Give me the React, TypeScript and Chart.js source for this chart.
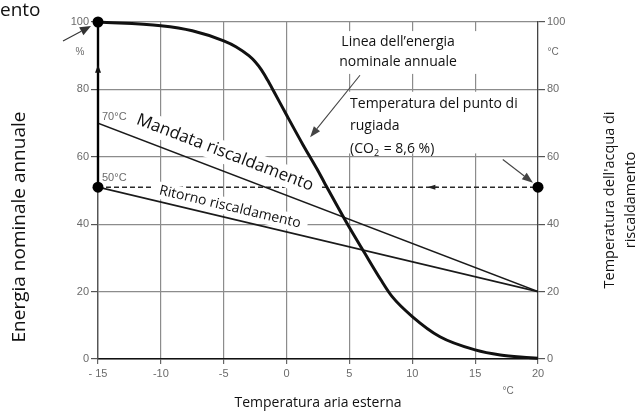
import React, { useEffect, useRef } from "react";
import { Chart, registerables } from "chart.js";

Chart.register(...registerables);

// ---- data ----
const xTickValues = [-15, -10, -5, 0, 5, 10, 15, 20];
const xTickLabels = ["- 15", "-10", "-5", "0", "5", "10", "15", "20"];
const yTickValues = [0, 20, 40, 60, 80, 100];

// annual nominal energy line (%), vs outdoor air temperature (°C)
const energyTemp = [-15, -10, -7.5, -5, -4, -3, -2.5, -2, -1.5, -1, 0, 1.3, 2.4, 3, 5, 6.2, 7.5, 8.4, 10, 12.2, 15, 17, 19.4, 20];
const energyPct = [100, 98.9, 97.4, 94.4, 92.6, 90.0, 88.2, 85.8, 82.7, 79.3, 72.4, 63.6, 56.5, 52.4, 39, 31.5, 23.5, 18.5, 12.6, 6.6, 2.7, 1.2, 0.4, 0.2];

// heating water temperatures (°C)
const flowTemp = [-15, 20];
const flowWater = [70, 20];
const returnTemp = [-15, 20];
const returnWater = [51, 20];
const dewTemp = [-15, 20];
const dewWater = [51, 51];
const axisArrowTemp = [-15, -15];
const axisArrowValue = [51, 100];
const dotTemp = [-15, -15, 20];
const dotValue = [100, 51, 51];

const FONT = "'Open Sans', 'Noto Sans', sans-serif";
const TICKFONT = "'Liberation Sans', Arial, sans-serif";

const pts = (xs: number[], ys: number[]) => xs.map((v, i) => ({ x: v, y: ys[i] }));

function arrow(ctx: CanvasRenderingContext2D, x1: number, y1: number, x2: number, y2: number, len: number, w: number, lw: number, color: string) {
  const a = Math.atan2(y2 - y1, x2 - x1);
  const bx = x2 - Math.cos(a) * len;
  const by = y2 - Math.sin(a) * len;
  ctx.save();
  ctx.strokeStyle = color;
  ctx.fillStyle = color;
  ctx.lineWidth = lw;
  ctx.beginPath();
  ctx.moveTo(x1, y1);
  ctx.lineTo(bx, by);
  ctx.stroke();
  ctx.beginPath();
  ctx.moveTo(x2, y2);
  ctx.lineTo(bx + Math.sin(a) * w / 2, by - Math.cos(a) * w / 2);
  ctx.lineTo(bx - Math.sin(a) * w / 2, by + Math.cos(a) * w / 2);
  ctx.closePath();
  ctx.fill();
  ctx.restore();
}

const MANDATA = "Mandata riscaldamento";
const RITORNO = "Ritorno riscaldamento";

function rotatedInfo(chart: any) {
  const x = chart.scales.x;
  const y = chart.scales.y2;
  const aF = Math.atan2(y.getPixelForValue(flowWater[1]) - y.getPixelForValue(flowWater[0]), x.getPixelForValue(flowTemp[1]) - x.getPixelForValue(flowTemp[0]));
  const aR = Math.atan2(y.getPixelForValue(returnWater[1]) - y.getPixelForValue(returnWater[0]), x.getPixelForValue(returnTemp[1]) - x.getPixelForValue(returnTemp[0]));
  return [
    { text: MANDATA, cx: x.getPixelForValue(-4.9), cy: y.getPixelForValue(61.2), a: aF, size: 17, h: 22 },
    { text: RITORNO, cx: x.getPixelForValue(-4.5), cy: y.getPixelForValue(45.1), a: aR, size: 14, h: 17 },
  ];
}

const annotationPlugin = {
  id: "annotations",
  afterDatasetDraw(chart: any, args: any) {
    if (args.index !== 0) return;
    const { ctx } = chart;
    const x = chart.scales.x;
    const y = chart.scales.y2;
    const X = (v: number) => x.getPixelForValue(v);
    const Y = (v: number) => y.getPixelForValue(v);
    ctx.save();
    ctx.fillStyle = "#ffffff";
    // label boxes
    ctx.fillRect(X(2.45), Y(97.3), X(15.5) - X(2.45), Y(84.6) - Y(97.3));
    ctx.fillRect(X(4.9), Y(79.3), X(19.3) - X(4.9), Y(61) - Y(79.3));
    for (const r of rotatedInfo(chart)) {
      ctx.font = `${r.size}px ${FONT}`;
      const w = ctx.measureText(r.text).width + 14;
      ctx.save();
      ctx.translate(r.cx, r.cy);
      ctx.rotate(r.a);
      ctx.fillRect(-w / 2, -r.h / 2, w, r.h);
      ctx.restore();
    }
    ctx.restore();
  },
  afterDatasetsDraw(chart: any) {
    const { ctx } = chart;
    const x = chart.scales.x;
    const y = chart.scales.y2;
    const X = (v: number) => x.getPixelForValue(v);
    const Y = (v: number) => y.getPixelForValue(v);
    ctx.save();

    // rotated series labels
    ctx.fillStyle = "#111";
    ctx.textAlign = "center";
    ctx.textBaseline = "middle";
    for (const r of rotatedInfo(chart)) {
      ctx.font = `${r.size}px ${FONT}`;
      ctx.save();
      ctx.translate(r.cx, r.cy);
      ctx.rotate(r.a);
      ctx.fillText(r.text, 0, 0);
      ctx.restore();
    }

    // callout texts
    ctx.font = `14px ${FONT}`;
    ctx.textAlign = "center";
    ctx.fillText("Linea dell\u2019energia", X(8.87), Y(94.2));
    ctx.fillText("nominale annuale", X(8.87), Y(88));
    ctx.textAlign = "left";
    const tx = X(5.05);
    ctx.fillText("Temperatura del punto di", tx, Y(75.6));
    ctx.fillText("rugiada", tx, Y(69.0));
    let cx = tx;
    ctx.fillText("(CO", cx, Y(62.3));
    cx += ctx.measureText("(CO").width;
    ctx.font = `9px ${FONT}`;
    ctx.fillText("2", cx, Y(62.3) + 4);
    cx += ctx.measureText("2").width + 1;
    ctx.font = `14px ${FONT}`;
    ctx.fillText(" = 8,6 %)", cx, Y(62.3));

    // callout arrows
    arrow(ctx, X(5.84), Y(84.2), X(1.87), Y(65.8), 11, 8, 1.1, "#444");
    arrow(ctx, X(17.2), Y(59.2), X(19.6), Y(52.3), 11, 8, 1.1, "#444");
    arrow(ctx, X(-15) - 35, Y(100) + 19, X(-15) - 7, Y(100) + 4, 11, 9, 1.1, "#333");
    // arrowhead on the left vertical axis (up)
    arrow(ctx, X(-15), Y(85), X(-15), Y(87.3), 8, 6, 1, "#111");
    // arrowhead on the dew point dashed line (left)
    arrow(ctx, X(12), Y(51), X(11.2), Y(51), 8, 5, 1, "#222");

    // small value labels
    ctx.fillStyle = "#6b6b6b";
    ctx.font = `11px ${TICKFONT}`;
    ctx.textAlign = "left";
    ctx.textBaseline = "alphabetic";
    ctx.fillText("70\u00b0C", X(-15) + 4, Y(70) - 3);
    ctx.fillText("50\u00b0C", X(-15) + 4, Y(51) - 6);

    // unit labels
    ctx.font = `10px ${TICKFONT}`;
    ctx.textAlign = "center";
    ctx.textBaseline = "middle";
    ctx.fillText("%", X(-15) - 18, Y(91));
    ctx.fillText("\u00b0C", X(20) + 15, Y(91));
    ctx.fillText("\u00b0C", X(20) - 30, Y(0) + 32);

    // axis titles
    ctx.fillStyle = "#111";
    ctx.font = `14px ${FONT}`;
    ctx.textAlign = "center";
    ctx.textBaseline = "middle";
    ctx.fillText("Temperatura aria esterna", (chart.chartArea.left + chart.chartArea.right) / 2, 403);

    ctx.save();
    ctx.font = `19px ${FONT}`;
    ctx.translate(20, 227);
    ctx.rotate(-Math.PI / 2);
    ctx.fillText("Energia nominale annuale", 0, 0);
    ctx.restore();

    ctx.save();
    ctx.font = `14.5px ${FONT}`;
    ctx.translate(610, 200);
    ctx.rotate(-Math.PI / 2);
    ctx.fillText("Temperatura dell'acqua di", 0, 0);
    ctx.fillText("riscaldamento", 0, 21);
    ctx.restore();

    // clipped heading fragment at top-left
    ctx.font = `19px ${FONT}`;
    ctx.textAlign = "left";
    ctx.textBaseline = "alphabetic";
    ctx.fillText("ento", 0, 16);

    ctx.restore();
  },
};

export default function App() {
  const ref = useRef<HTMLCanvasElement>(null);
  useEffect(() => {
    document.body.style.margin = "0";
    const canvas = ref.current;
    if (!canvas) return;
    const tickFont = { family: TICKFONT, size: 11 };
    const chart = new Chart(canvas, {
      type: "line",
      data: {
        datasets: [
          {
            label: "Temperatura del punto di rugiada",
            data: pts(dewTemp, dewWater),
            yAxisID: "y2",
            borderColor: "#2a2a2a",
            borderWidth: 1.5,
            borderDash: [5, 3],
            pointRadius: 0,
            order: 10,
          },
          {
            label: "Mandata riscaldamento",
            data: pts(flowTemp, flowWater),
            yAxisID: "y2",
            borderColor: "#1a1a1a",
            borderWidth: 1.5,
            pointRadius: 0,
            order: 5,
          },
          {
            label: "Ritorno riscaldamento",
            data: pts(returnTemp, returnWater),
            yAxisID: "y2",
            borderColor: "#1a1a1a",
            borderWidth: 1.6,
            pointRadius: 0,
            order: 5,
          },
          {
            label: "axis arrow",
            data: pts(axisArrowTemp, axisArrowValue),
            yAxisID: "y",
            borderColor: "#000",
            borderWidth: 2.4,
            pointRadius: 0,
            clip: false as any,
            order: 4,
          },
          {
            label: "Linea dell'energia nominale annuale",
            data: pts(energyTemp, energyPct),
            yAxisID: "y",
            borderColor: "#111",
            borderWidth: 3,
            cubicInterpolationMode: "monotone",
            pointRadius: 0,
            clip: false as any,
            order: 2,
          },
          {
            label: "points",
            data: pts(dotTemp, dotValue),
            yAxisID: "y",
            showLine: false,
            pointRadius: 5.5,
            pointBackgroundColor: "#000",
            pointBorderWidth: 0,
            clip: false as any,
            order: 1,
          },
        ],
      },
      options: {
        responsive: false,
        animation: false,
        events: [],
        layout: { padding: { top: 22, left: 0, right: 0, bottom: 0 } },
        plugins: { legend: { display: false }, tooltip: { enabled: false } },
        scales: {
          x: {
            type: "linear",
            min: -15,
            max: 20,
            ticks: {
              stepSize: 5,
              color: "#6b6b6b",
              font: tickFont,
              padding: 3,
              maxRotation: 0,
              autoSkip: false,
              callback: (v: any) => {
                const i = xTickValues.indexOf(Number(v));
                return i >= 0 ? xTickLabels[i] : "";
              },
            },
            grid: { color: "#8c8c8c", lineWidth: 1.2, tickLength: 5, tickColor: "#666" },
            border: { display: true, color: "#111", width: 1.6 },
            afterFit: (s: any) => {
              s.height = 53;
            },
          },
          y: {
            type: "linear",
            position: "left",
            min: 0,
            max: 100,
            afterBuildTicks: (s: any) => {
              s.ticks = yTickValues.map((v) => ({ value: v }));
            },
            ticks: { color: "#6b6b6b", font: tickFont, padding: 2 },
            grid: { color: "#8c8c8c", lineWidth: 1.2, tickLength: 7, tickColor: "#555" },
            border: { display: true, color: "#555", width: 1.4 },
            afterFit: (s: any) => {
              s.width = 98;
            },
          },
          y2: {
            type: "linear",
            position: "right",
            min: 0,
            max: 100,
            afterBuildTicks: (s: any) => {
              s.ticks = yTickValues.map((v) => ({ value: v }));
            },
            ticks: { color: "#6b6b6b", font: tickFont, padding: 2 },
            grid: { drawOnChartArea: false, tickLength: 7, color: "#555", lineWidth: 1.2 },
            border: { display: true, color: "#444", width: 1.2 },
            afterFit: (s: any) => {
              s.width = 103;
            },
          },
        },
      } as any,
      plugins: [annotationPlugin as any],
    });
    return () => chart.destroy();
  }, []);

  return (
    <div style={{ position: "fixed", left: 0, top: 0, width: 641, height: 412, background: "#fff" }}>
      <canvas ref={ref} width={641} height={412} />
    </div>
  );
}
